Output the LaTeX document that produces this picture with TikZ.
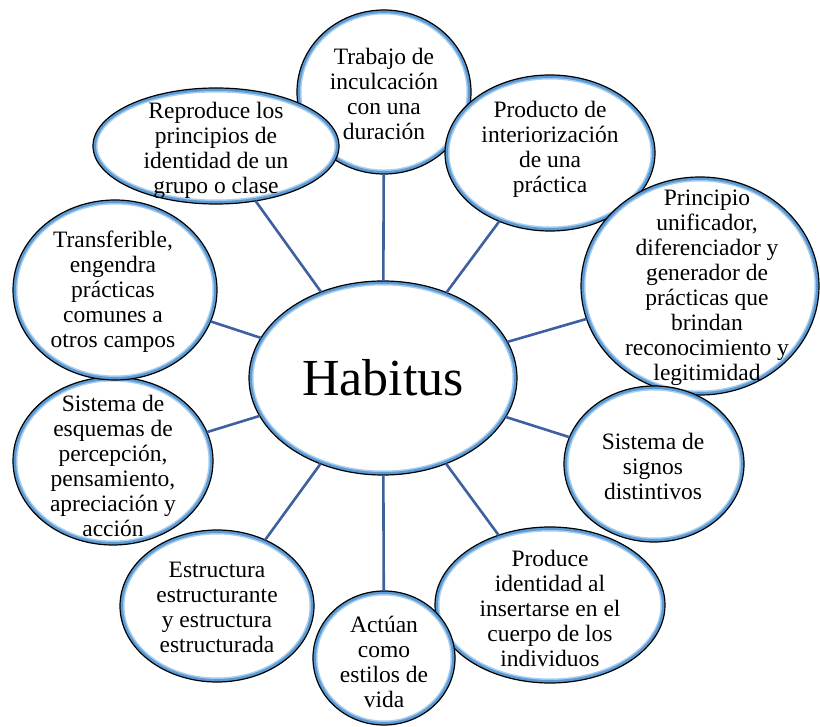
\documentclass[tikz,border=0pt]{standalone}
\usepackage{fontspec}
\setmainfont{Liberation Serif}
\usetikzlibrary{shapes.geometric}
\definecolor{ringblue}{RGB}{91,155,213}
\definecolor{ringpale}{RGB}{170,205,238}
\definecolor{linkblue}{RGB}{62,96,160}
\tikzset{
  bub/.style 2 args={ellipse, draw=black, line width=1.2pt, fill=white,
    inner sep=0pt, outer sep=0pt,
    minimum width={2*#1pt}, minimum height={2*#2pt},
    path picture={
      \draw[ringpale, line width=9pt]
        (path picture bounding box.center) ellipse [x radius=#1pt, y radius=#2pt];
      \draw[ringblue, line width=6pt]
        (path picture bounding box.center) ellipse [x radius=#1pt, y radius=#2pt];}},
  txt/.style={align=center, inner sep=0pt, font=\fontsize{23.5}{25}\selectfont},
  link/.style={draw=linkblue, line width=2.6pt}
}
\begin{document}
\begin{tikzpicture}[x=1pt,y=-1pt]
\useasboundingbox (0,0) rectangle (820,727);
% central
\node[bub={134}{97}] (H) at (383,378) {};
\node[inner sep=0pt, font=\fontsize{52}{60}\selectfont] (Ht) at (383,378) {Habitus};
% outer (clockwise from top)
\node[bub={87}{82}] (T1) at (384,92) {};
\node[txt] (T1t) at (384,94) {Trabajo de\\inculcación\\con una\\duración};
\node[bub={105}{78}] (T2) at (550,153) {};
\node[txt] (T2t) at (550,149) {Producto de\\interiorización\\de una\\práctica};
\node[bub={119}{109}] (T3) at (700,286) {};
\node[txt] (T3t) at (707,288) {Principio\\unificador,\\diferenciador y\\generador de\\prácticas que\\brindan\\reconocimiento y\\legitimidad};
\node[bub={90}{78}] (T4) at (654,464) {};
\node[txt] (T4t) at (653,466) {Sistema de\\signos\\distintivos};
\node[bub={115}{78}] (T5) at (550,605) {};
\node[txt] (T5t) at (550,608) {Produce\\identidad al\\insertarse en el\\cuerpo de los\\individuos};
\node[bub={71}{67}] (T6) at (384,658) {};
\node[txt] (T6t) at (384,662) {Actúan\\como\\estilos de\\vida};
\node[bub={97}{76}] (T7) at (217,606) {};
\node[txt] (T7t) at (217,607) {Estructura\\estructurante\\y estructura\\estructurada};
\node[bub={100}{84}] (T8) at (113,461) {};
\node[txt] (T8t) at (113,466) {Sistema de\\esquemas de\\percepción,\\pensamiento,\\apreciación y\\acción};
\node[bub={102}{90}] (T9) at (115,290) {};
\node[txt] (T9t) at (113,292) {Transferible,\\engendra\\prácticas\\comunes a\\otros campos};
\node[bub={123}{58}] (T10) at (216,146) {};
\node[txt] (T10t) at (216,150) {Reproduce los\\principios de\\identidad de un\\grupo o clase};
% connectors
\foreach \n in {T1,T2,T3,T4,T5,T6,T7,T8,T9,T10}
  \draw[link] (H) -- (\n);
\end{tikzpicture}
\end{document}
